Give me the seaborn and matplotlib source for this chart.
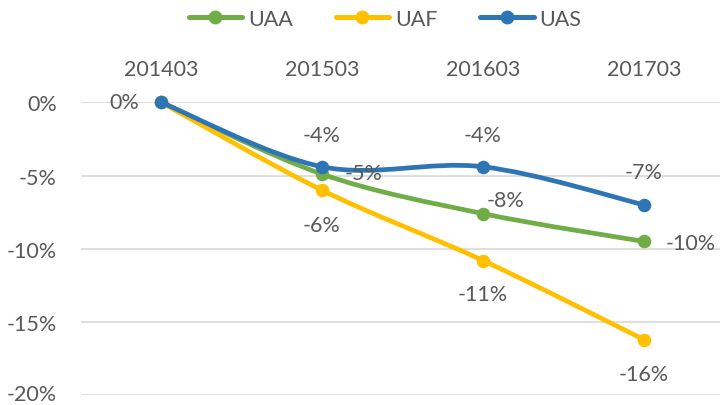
import numpy as np
import pandas as pd
import matplotlib
matplotlib.use("Agg")
import matplotlib.pyplot as plt
from matplotlib.path import Path
from matplotlib.patches import PathPatch
from matplotlib.lines import Line2D
from matplotlib.transforms import ScaledTranslation
import seaborn as sns

# ---- data ----
periods = ["201403", "201503", "201603", "201703"]
series_names = ["UAA", "UAF", "UAS"]
uaa = [0.0, -4.9, -7.6, -9.5]
uaf = [0.0, -6.0, -10.8, -16.2]
uas = [0.0, -4.4, -4.4, -7.0]
ytick_values = [0, -5, -10, -15, -20]
ytick_labels = ["0%", "-5%", "-10%", "-15%", "-20%"]
point_labels = {
    "UAA": ["0%", "-5%", "-8%", "-10%"],
    "UAF": ["", "-6%", "-11%", "-16%"],
    "UAS": ["", "-4%", "-4%", "-7%"],
}
colors = {"UAA": "#70AD47", "UAF": "#FFC000", "UAS": "#2E75B6"}
values = {"UAA": uaa, "UAF": uaf, "UAS": uas}
# label offsets in pixels (dx, dy)
label_offsets = {
    "UAA": [(-37, 0), (42, 1), (22, 14), (47, -2)],
    "UAF": [(0, 0), (0, -35), (0, -33), (0, -34)],
    "UAS": [(0, 0), (0, 32), (0, 32), (0, 33)],
}

rows = []
for s in series_names:
    for i, p in enumerate(periods):
        rows.append({"series": s, "period": p, "pos": i, "value": values[s][i]})
df = pd.DataFrame(rows)

sns.set_theme(style="white")
plt.rcParams["font.family"] = ["Lato", "DejaVu Sans"]
TXT = "#595959"
FS = 15.5

fig = plt.figure(figsize=(7.2, 4.06), dpi=100)
ax = fig.add_axes([80.5 / 720, 1 - 396.3 / 406, 644 / 720, 293 / 406])


def smooth_path(xs, ys):
    pts = np.column_stack([xs, ys]).astype(float)
    n = len(pts)
    verts = [pts[0]]
    codes = [Path.MOVETO]
    for i in range(n - 1):
        p0 = pts[max(i - 1, 0)]
        p1 = pts[i]
        p2 = pts[i + 1]
        p3 = pts[min(i + 2, n - 1)]
        c1 = p1 + (p2 - p0) / 6.0
        c2 = p2 - (p3 - p1) / 6.0
        verts += [c1, c2, p2]
        codes += [Path.CURVE4] * 3
    return Path(verts, codes)


for k, s in enumerate(series_names):
    sub = df[df["series"] == s]
    patch = PathPatch(smooth_path(sub["pos"], sub["value"]), facecolor="none",
                      edgecolor=colors[s], lw=3.4, capstyle="round",
                      joinstyle="round", zorder=3 + k * 2, clip_on=False)
    ax.add_patch(patch)
    sns.scatterplot(data=sub, x="pos", y="value", color=colors[s], s=95,
                    linewidth=0, ax=ax, zorder=4 + k * 2, clip_on=False,
                    legend=False)

for s in series_names:
    sub = df[df["series"] == s]
    for i, (x, y) in enumerate(zip(sub["pos"], sub["value"])):
        lab = point_labels[s][i]
        if not lab:
            continue
        dx, dy = label_offsets[s][i]
        ax.annotate(lab, (x, y), xytext=(dx, dy), textcoords="offset pixels",
                    ha="center", va="center", fontsize=FS, color=TXT, zorder=20,
                    annotation_clip=False)

ax.set_xlim(-0.5, 3.5)
ax.set_ylim(-20, 0)
ax.set_xticks(range(len(periods)))
ax.set_xticklabels(periods)
ax.xaxis.tick_top()
ax.set_yticks(ytick_values)
ax.set_yticklabels(ytick_labels)
ax.tick_params(axis="x", length=0, pad=17, labelsize=FS, colors=TXT)
ax.tick_params(axis="y", length=0, pad=17, labelsize=FS, colors=TXT)
ax.set_xlabel("")
ax.set_ylabel("")
ax.grid(axis="y", color="#D9D9D9", lw=1.2)
ax.grid(axis="x", visible=False)
for sp in ax.spines.values():
    sp.set_visible(False)
ax.set_axisbelow(True)

# keep the bottom tick label inside the canvas
lbls = ax.get_yticklabels()
lbls[-1].set_transform(lbls[-1].get_transform()
                       + ScaledTranslation(0, 3 / 100, fig.dpi_scale_trans))

handles = [Line2D([0], [0], color=colors[s], lw=3.6, marker="o", markersize=10,
                  markeredgewidth=0) for s in series_names]
leg = fig.legend(handles, series_names, loc="center",
                 bbox_to_anchor=(385 / 720, 1 - 20 / 406), ncol=3, frameon=False,
                 fontsize=FS, handlelength=2.5, handletextpad=0.25,
                 columnspacing=2.0, labelcolor=TXT)

fig.savefig("out.png", dpi=100)
